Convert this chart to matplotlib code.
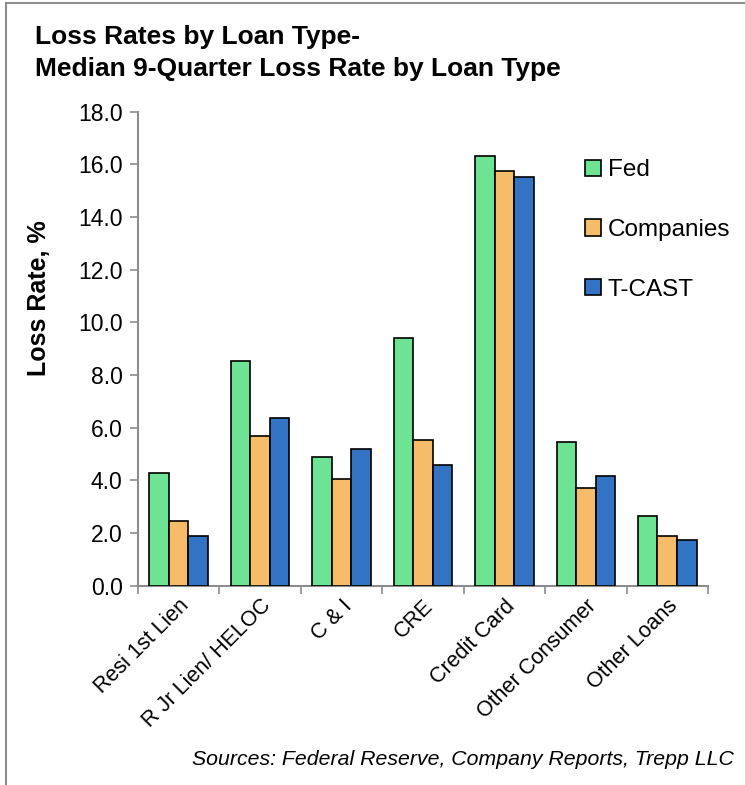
import matplotlib
matplotlib.use("Agg")
import matplotlib.pyplot as plt
import numpy as np
from matplotlib.lines import Line2D
from matplotlib.ticker import FixedLocator, FormatStrFormatter

plt.rcParams["font.family"] = ["Liberation Sans", "DejaVu Sans"]

# median 9-quarter loss rates (%)
categories = ["Resi 1st Lien", "R Jr Lien/ HELOC", "C & I", "CRE",
              "Credit Card", "Other Consumer", "Other Loans"]
fed = [4.29, 8.54, 4.90, 9.39, 16.31, 5.44, 2.65]
companies = [2.46, 5.70, 4.04, 5.53, 15.74, 3.70, 1.90]
tcast = [1.89, 6.37, 5.20, 4.58, 15.53, 4.18, 1.72]

series = [("Fed", fed, "#6fe394"),
          ("Companies", companies, "#f7bc6a"),
          ("T-CAST", tcast, "#3373c4")]

fig = plt.figure(figsize=(7.45, 7.85), dpi=100)
ax = fig.add_axes([0.1852, 0.2539, 0.7651, 0.6039])

x = np.arange(len(categories))
w = 0.24
for i, (name, vals, col) in enumerate(series):
    ax.bar(x + (i - 1) * w, vals, width=w, color=col, edgecolor="black",
           linewidth=1.2, label=name, zorder=3)

ax.set_xlim(-0.5, len(categories) - 0.5)
ax.set_ylim(0, 18)
ax.set_yticks(np.arange(0, 18.1, 2))
ax.yaxis.set_major_formatter(FormatStrFormatter("%.1f"))
ax.tick_params(axis="y", direction="out", length=6, width=1.2, color="#8c8c8c",
               labelsize=16.5, pad=5)

ax.set_xticks(x)
ax.set_xticklabels(categories, rotation=45, ha="right", va="top",
                   rotation_mode="anchor", fontsize=15.5)
ax.tick_params(axis="x", which="major", length=0, pad=7)
ax.xaxis.set_minor_locator(FixedLocator(np.arange(-0.5, len(categories), 1)))
ax.tick_params(axis="x", which="minor", direction="out", length=6, width=1.2,
               color="#8c8c8c")

for side in ["top", "right"]:
    ax.spines[side].set_visible(False)
for side in ["left", "bottom"]:
    ax.spines[side].set_color("#8c8c8c")
    ax.spines[side].set_linewidth(1.5)

fig.text(0.052, 0.62, "Loss Rate, %", fontsize=18, fontweight="bold",
         rotation=90, ha="center", va="center")

fig.legend(loc="upper left", bbox_to_anchor=(0.785, 0.797), frameon=False,
           fontsize=17.5, handlelength=0.65, handleheight=0.65, handletextpad=0.3,
           labelspacing=1.55, borderpad=0, borderaxespad=0)
for p in fig.legends[0].get_patches():
    p.set_linewidth(1.2)

fig.text(0.047, 0.968, "Loss Rates by Loan Type-\nMedian 9-Quarter Loss Rate by Loan Type",
         fontsize=19, fontweight="bold", va="top", ha="left", linespacing=1.4)
fig.text(0.985, 0.032, "Sources: Federal Reserve, Company Reports, Trepp LLC",
         fontsize=15.3, style="italic", ha="right", va="center")

# outer frame (top and left edges)
fig.add_artist(Line2D([0.008, 0.008], [0, 0.996], transform=fig.transFigure,
                      color="#8c8c8c", linewidth=1.5))
fig.add_artist(Line2D([0.008, 1], [0.996, 0.996], transform=fig.transFigure,
                      color="#8c8c8c", linewidth=1.5))

fig.savefig("out.png", dpi=100)
